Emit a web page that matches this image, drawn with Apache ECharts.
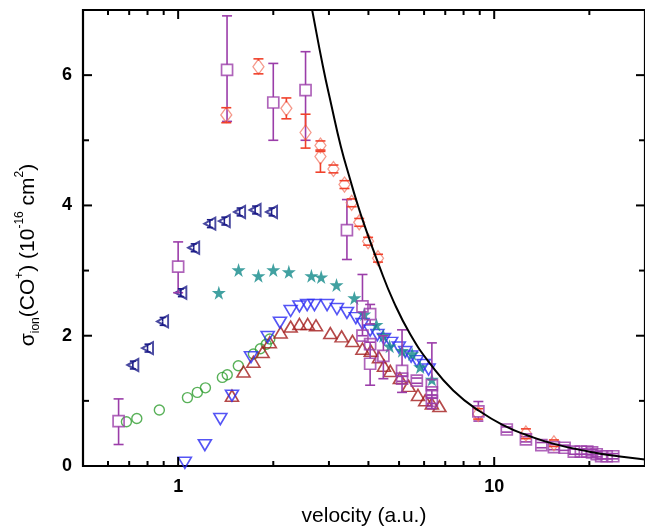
<!DOCTYPE html>
<html><head><meta charset="utf-8">
<script src="https://cdn.jsdelivr.net/npm/echarts@6/dist/echarts.min.js"></script>
<style>html,body{margin:0;padding:0;background:#fff}#c{width:645px;height:532px}</style>
</head><body><div id="c"></div>
<script>
// ---------- data ----------
const xTickLabels = [1, 10];
const xMinorTicks = [0.6, 0.7, 0.8, 0.9, 2, 3, 4, 5, 6, 7, 8, 9, 20];
const yTickLabels = [0, 2, 4, 6];
const yMinorTicks = [1, 3, 5];

const purpleSquares = [[0.648,0.69],[1.0,3.06],[1.428,6.08],[2.0,5.58],[2.53,5.77],[3.42,3.62],
  [3.83,2.45],[4.05,2.33],[3.83,2.0],[4.05,1.87],[4.05,1.57],[4.46,1.69],[5.11,1.46],[5.11,1.34],
  [5.69,1.31],[6.35,1.24],[6.35,1.13],[6.35,1.0],[8.91,0.84],[10.96,0.56],[12.6,0.41],[14.1,0.32],
  [15.45,0.29],[16.7,0.28],[17.86,0.22],[18.8,0.22],[19.7,0.22],[20.4,0.21],[21.1,0.18],[21.8,0.15],
  [22.7,0.15],[23.8,0.15]];
// [x, low, high, y]
const purpleErrors = [[0.648,0.33,1.03,0.69],[1.0,2.66,3.44,3.06],[1.428,5.29,6.91,6.08],[2.0,5.0,6.18,5.58],
  [2.53,5.0,6.36,5.77],[3.42,3.17,4.09,3.62],[3.83,2.0,2.94,2.45],[4.05,2.18,2.48,2.33],[4.05,1.24,1.90,1.57],
  [4.46,1.34,2.0,1.69],[5.11,1.13,2.09,1.46],[6.35,0.88,1.89,1.24],[8.91,0.69,0.99,0.84],
  [5.11,1.30,1.38,1.34],[5.69,1.27,1.35,1.31],[6.35,1.09,1.17,1.13],[6.35,0.96,1.04,1.0],
  [10.96,0.52,0.60,0.56],[12.6,0.37,0.45,0.41],[14.1,0.28,0.36,0.32],[15.45,0.25,0.33,0.29],
  [16.7,0.24,0.32,0.28],[17.86,0.18,0.26,0.22],[18.8,0.18,0.26,0.22],[19.7,0.18,0.26,0.22],
  [20.4,0.17,0.25,0.21],[21.1,0.14,0.22,0.18],[21.8,0.11,0.19,0.15],[22.7,0.11,0.19,0.15],[23.8,0.11,0.19,0.15]];

const redDiamonds = [[1.42,5.39],[1.795,6.13],[2.20,5.49],[2.53,5.12],[2.82,4.92],[2.82,4.75],[3.10,4.56],
  [3.36,4.32],[3.54,4.04],[3.74,3.74],[3.99,3.45],[4.29,3.19],[8.9,0.80],[12.6,0.50],[15.45,0.35]];
const redErrors = [[1.42,5.27,5.50,5.39],[1.795,6.02,6.25,6.13],[2.20,5.33,5.65,5.49],[2.53,4.88,5.40,5.12],
  [2.82,4.85,4.99,4.92],[2.82,4.51,4.83,4.75],[3.10,4.50,4.62,4.56],[3.36,4.26,4.38,4.32],[3.54,3.98,4.10,4.04],
  [3.74,3.68,3.80,3.74],[3.99,3.39,3.51,3.45],[4.29,3.13,3.25,3.19],[8.9,0.72,0.88,0.80],[12.6,0.42,0.57,0.50],
  [15.45,0.30,0.40,0.35]];

const navyLeftTriangles = [[0.719,1.55],[0.80,1.81],[0.893,2.22],[1.02,2.66],[1.12,3.35],[1.26,3.72],
  [1.40,3.76],[1.565,3.90],[1.752,3.93],[1.975,3.90]];
const navyErrors = [[0.719,1.49,1.61,1.55],[0.80,1.75,1.87,1.81],[0.893,2.16,2.28,2.22],[1.02,2.60,2.72,2.66],
  [1.12,3.29,3.41,3.35],[1.26,3.66,3.78,3.72],[1.40,3.70,3.82,3.76],[1.565,3.84,3.96,3.90],
  [1.752,3.87,3.99,3.93],[1.975,3.84,3.96,3.90]];

const tealStars = [[1.345,2.66],[1.553,3.01],[1.795,2.92],[2.0,3.01],[2.24,2.98],[2.64,2.92],[2.835,2.90],
  [3.17,2.78],[3.61,2.58],[3.88,2.33],[4.24,2.17],[4.46,2.0],[4.67,1.84],[5.11,1.77],[5.5,1.72],[5.83,1.52],[6.35,1.33]];

const blueDownTriangles = [[1.05,0.05],[1.215,0.32],[1.36,0.72],[1.48,1.08],[1.70,1.67],[1.92,1.98],[2.10,2.20],
  [2.27,2.38],[2.42,2.45],[2.56,2.47],[2.70,2.47],[2.96,2.47],[3.18,2.41],[3.42,2.35],[3.65,2.27],[3.83,2.18],
  [4.05,2.08],[4.27,2.01],[4.48,1.95],[4.72,1.89],[4.99,1.82],[5.23,1.75],[5.46,1.68],[5.69,1.61],[5.98,1.55],[6.2,1.48]];

const darkRedUpTriangles = [[1.48,1.08],[1.61,1.45],[1.73,1.60],[1.85,1.75],[1.95,1.90],[2.11,2.05],[2.27,2.14],
  [2.42,2.18],[2.57,2.18],[2.73,2.16],[3.03,2.04],[3.29,1.99],[3.56,1.92],[3.83,1.80],[4.07,1.77],[4.32,1.67],
  [4.48,1.54],[4.69,1.46],[5.03,1.35],[5.36,1.23],[5.74,1.09],[6.05,1.01],[6.35,0.96],[6.71,0.92]];

const greenCircles = [[0.686,0.68],[0.74,0.73],[0.872,0.86],[1.07,1.05],[1.15,1.13],[1.22,1.20],[1.38,1.36],
  [1.43,1.40],[1.55,1.54],[1.73,1.72],[1.82,1.80],[1.90,1.87],[1.95,1.95]];

const theoryCurve = [[2.62,7.15],[2.65,7.02],[2.87,6.14],[3.05,5.55],[3.27,4.91],[3.52,4.36],[3.65,4.10],
  [3.87,3.72],[4.32,3.08],[4.81,2.52],[5.43,2.02],[6.27,1.57],[7.42,1.16],[9.0,0.84],[10.96,0.60],
  [12.6,0.48],[15.45,0.34],[20,0.22],[25,0.145],[30,0.10]];

// ---------- chart ----------
const X_MIN = 0.5, X_MAX = 30, Y_MIN = 0, Y_MAX = 7;
const FONT = '"Liberation Sans", Arial, sans-serif';
const STAR = 'path://M50,0 L61,35 L98,35 L68,57 L79,91 L50,70 L21,91 L32,57 L2,35 L39,35 Z';
const OPEN = 'rgba(255,255,255,0)';

function errorSeries(data, color, capW, gap, z) {
  return {
    type: 'custom', data: data, z: z, encode: {x: 0, y: [1, 2]}, silent: true,
    renderItem: function (params, api) {
      const x = api.value(0), lo = api.value(1), hi = api.value(2), y = api.value(3);
      const pl = api.coord([x, lo]), ph = api.coord([x, hi]), pc = api.coord([x, y]);
      const st = {stroke: color, lineWidth: 1.6};
      const ch = [];
      if (ph[1] < pc[1] - gap) ch.push({type: 'line', shape: {x1: pc[0], y1: ph[1], x2: pc[0], y2: pc[1] - gap}, style: st});
      if (pl[1] > pc[1] + gap) ch.push({type: 'line', shape: {x1: pc[0], y1: pc[1] + gap, x2: pc[0], y2: pl[1]}, style: st});
      ch.push({type: 'line', shape: {x1: pc[0] - capW, y1: ph[1], x2: pc[0] + capW, y2: ph[1]}, style: st});
      ch.push({type: 'line', shape: {x1: pc[0] - capW, y1: pl[1], x2: pc[0] + capW, y2: pl[1]}, style: st});
      return {type: 'group', children: ch};
    }
  };
}

const tickData = []
  .concat(xTickLabels.map(v => [v, Y_MIN, 0]))
  .concat(xMinorTicks.map(v => [v, Y_MIN, 1]))
  .concat(yTickLabels.map(v => [X_MIN, v, 2]))
  .concat(yMinorTicks.map(v => [X_MIN, v, 3]));

const tickSeries = {
  type: 'custom', data: tickData, z: 20, silent: true, encode: {x: 0, y: 1},
  renderItem: function (params, api) {
    const k = api.value(2), st = {stroke: '#000', lineWidth: 2};
    const ch = [];
    if (k < 2) {
      const v = api.value(0), L = k === 0 ? 9 : 5;
      const b = api.coord([v, Y_MIN]), t = api.coord([v, Y_MAX]);
      ch.push({type: 'line', shape: {x1: b[0], y1: b[1], x2: b[0], y2: b[1] - L}, style: st});
      ch.push({type: 'line', shape: {x1: t[0], y1: t[1], x2: t[0], y2: t[1] + L}, style: st});
    } else {
      const v = api.value(1), L = k === 2 ? 9 : 6;
      const l = api.coord([X_MIN, v]), r = api.coord([X_MAX, v]);
      ch.push({type: 'line', shape: {x1: l[0], y1: l[1], x2: l[0] + L, y2: l[1]}, style: st});
      ch.push({type: 'line', shape: {x1: r[0], y1: r[1], x2: r[0] - L, y2: r[1]}, style: st});
    }
    return {type: 'group', children: ch};
  }
};

const chart = echarts.init(document.getElementById('c'), null, {renderer: 'canvas'});
chart.setOption({
  animation: false,
  backgroundColor: '#fff',
  grid: {left: 83, top: 10, width: 567, height: 457.5, show: true, borderColor: '#000', borderWidth: 2.2, backgroundColor: 'transparent'},
  xAxis: {
    type: 'log', logBase: 10, min: X_MIN, max: X_MAX,
    axisLine: {show: false}, axisTick: {show: false}, splitLine: {show: false}, minorTick: {show: false},
    axisLabel: {
      color: '#000', fontSize: 18, fontWeight: 'bold', fontFamily: FONT, margin: 12,
      showMinLabel: false, showMaxLabel: false,
      formatter: v => xTickLabels.some(t => Math.abs(t - v) < 1e-6 * t) ? String(Math.round(v)) : ''
    },
    name: 'velocity (a.u.)', nameLocation: 'middle', nameGap: 40,
    nameTextStyle: {color: '#000', fontSize: 21, fontFamily: FONT}
  },
  yAxis: {
    type: 'value', min: Y_MIN, max: Y_MAX, interval: 1,
    axisLine: {show: false}, axisTick: {show: false}, splitLine: {show: false},
    axisLabel: {
      color: '#000', fontSize: 18, fontWeight: 'bold', fontFamily: FONT, margin: 11,
      formatter: v => yTickLabels.indexOf(v) >= 0 ? String(v) : ''
    },
    name: '{n|σ}{sub|ion}{n|(CO}{sup|+}{n|) (10}{sup|-16}{n| cm}{sup|2}{n|)}',
    nameLocation: 'middle', nameGap: 41, nameRotate: 90,
    nameTextStyle: {
      color: '#000', fontFamily: FONT, padding: [0, 34, 0, 0],
      rich: {
        n: {fontSize: 21, lineHeight: 28, fontFamily: FONT, color: '#000', verticalAlign: 'middle'},
        sup: {fontSize: 12, lineHeight: 14, fontFamily: FONT, color: '#000', verticalAlign: 'top'},
        sub: {fontSize: 12, lineHeight: 13, fontFamily: FONT, color: '#000', verticalAlign: 'bottom'}
      }
    }
  },
  series: [
    tickSeries,
    errorSeries(purpleErrors, '#9b3da9', 5, 5.5, 3),
    errorSeries(redErrors, '#f0412b', 5, 6, 4),
    errorSeries(navyErrors, '#1c1c88', 3, 0, 4),
    {type: 'scatter', data: greenCircles, symbol: 'circle', symbolSize: 10, z: 2,
      itemStyle: {color: OPEN, borderColor: '#2f9e2f', borderWidth: 1.4}},
    {type: 'scatter', data: darkRedUpTriangles, symbol: 'triangle', symbolSize: [13, 11], z: 2,
      itemStyle: {color: OPEN, borderColor: '#a31c1c', borderWidth: 1.6}},
    {type: 'scatter', data: blueDownTriangles, symbol: 'triangle', symbolRotate: 180, symbolSize: [13, 11], z: 2,
      itemStyle: {color: OPEN, borderColor: '#2a2af2', borderWidth: 1.6}},
    {type: 'scatter', data: tealStars, symbol: STAR, symbolSize: 14, z: 2,
      itemStyle: {color: '#118a8a', borderWidth: 0}},
    {type: 'scatter', data: navyLeftTriangles, symbol: 'triangle', symbolRotate: 90, symbolSize: [12, 11], z: 2,
      itemStyle: {color: OPEN, borderColor: '#1c1c88', borderWidth: 2}},
    {type: 'scatter', data: redDiamonds, symbol: 'diamond', symbolSize: [11, 15], z: 3,
      itemStyle: {color: OPEN, borderColor: '#f2806e', borderWidth: 1.3}},
    {type: 'scatter', data: purpleSquares, symbol: 'rect', symbolSize: 11, z: 3,
      itemStyle: {color: OPEN, borderColor: '#9b3da9', borderWidth: 1.7}},
    {type: 'line', data: theoryCurve, showSymbol: false, smooth: 0.5, z: 5, clip: true,
      lineStyle: {color: '#000', width: 2}, silent: true}
  ]
});
</script>
</body></html>
